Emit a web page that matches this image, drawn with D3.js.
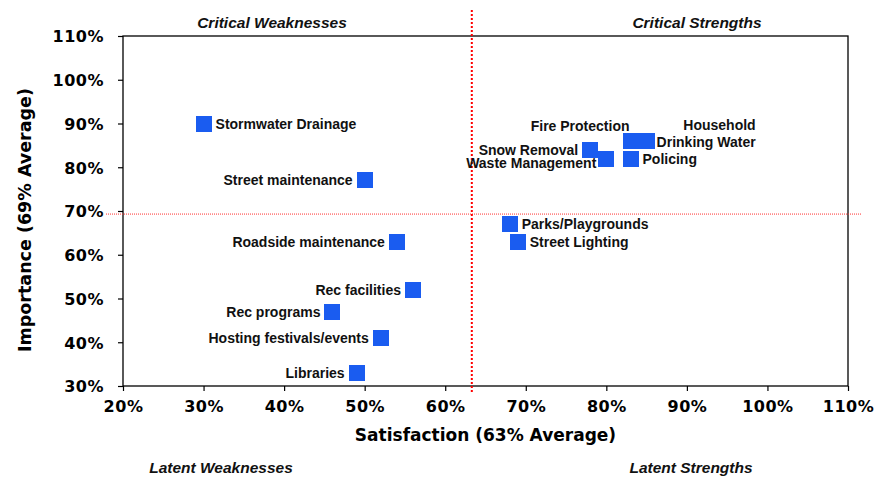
<!DOCTYPE html>
<html>
<head>
<meta charset="utf-8">
<script src="https://cdn.jsdelivr.net/npm/d3@7/dist/d3.min.js"></script>
<style>
  body { margin: 0; background: #fff; }
  .tick text { font-family: "DejaVu Sans", Verdana, sans-serif; font-weight: bold; font-size: 16px; letter-spacing: 0.5px; fill: #000; }
  .lbl { font-family: "Liberation Sans", Arial, sans-serif; font-weight: bold; font-size: 14px; fill: #111; }
  .quad { font-family: "Liberation Sans", Arial, sans-serif; font-weight: bold; font-style: italic; font-size: 15.5px; fill: #111; }
  .title { font-family: "DejaVu Sans", Verdana, sans-serif; font-weight: bold; font-size: 17px; fill: #000; }
</style>
</head>
<body>
<svg id="chart" width="877" height="479"></svg>
<script>
// data
var services = ["Stormwater Drainage", "Street maintenance", "Roadside maintenance", "Rec facilities",
  "Rec programs", "Hosting festivals/events", "Libraries", "Parks/Playgrounds", "Street Lighting",
  "Snow Removal", "Waste Management", "Policing", "Fire Protection", "Household\nDrinking Water"];
var satisfaction = [30, 50, 54, 56, 46, 52, 49, 68, 69, 78, 80, 83, 83, 85];
var importance = [90, 77, 63, 52, 47, 41, 33, 67, 63, 84, 82, 82, 86, 86];
// where each label sits next to its marker
var labelSide = ["right", "left", "left", "left", "left", "left", "left", "right", "right",
  "left", "leftBelow", "right", "leftAbove", "rightTwoLine"];
var xTicks = [20, 30, 40, 50, 60, 70, 80, 90, 100, 110];
var yTicks = [30, 40, 50, 60, 70, 80, 90, 100, 110];
var avgSatisfaction = 63.3;
var avgImportance = 69.3;
var quadrants = ["Critical Weaknesses", "Critical Strengths", "Latent Weaknesses", "Latent Strengths"];

var svg = d3.select("#chart");
var pLeft = 123, pRight = 848, pTop = 36, pBottom = 386;

var x = d3.scaleLinear().domain([20, 110]).range([pLeft, pRight]);
var y = d3.scaleLinear().domain([30, 110]).range([pBottom, pTop]);

// axes
var xAxis = svg.append("g").attr("transform", "translate(0," + pBottom + ")")
  .call(d3.axisBottom(x).tickValues(xTicks).tickSize(5).tickPadding(10).tickFormat(function(d) { return d + "%"; }));
var yAxis = svg.append("g").attr("transform", "translate(" + pLeft + ",0)")
  .call(d3.axisLeft(y).tickValues(yTicks).tickSize(5).tickPadding(14).tickFormat(function(d) { return d + "%"; }));
xAxis.select(".domain").remove();
yAxis.select(".domain").remove();
svg.selectAll(".tick line").attr("stroke", "#000").attr("stroke-width", 1.2);
yAxis.selectAll(".tick text").attr("dy", "0.36em");

// plot frame
svg.append("rect").attr("x", pLeft).attr("y", pTop).attr("width", pRight - pLeft).attr("height", pBottom - pTop)
  .attr("fill", "none").attr("stroke", "#000").attr("stroke-width", 1.3);

// average lines
svg.append("line").attr("x1", 106).attr("x2", 861).attr("y1", y(avgImportance)).attr("y2", y(avgImportance))
  .attr("stroke", "#ff3030").attr("stroke-width", 1).attr("stroke-dasharray", "1,1");
svg.append("line").attr("x1", x(avgSatisfaction)).attr("x2", x(avgSatisfaction)).attr("y1", 10).attr("y2", 392)
  .attr("stroke", "#ff0000").attr("stroke-width", 2).attr("stroke-dasharray", "2,2");

// markers
var pts = services.map(function(s, i) {
  return { name: s, sx: satisfaction[i], iy: importance[i], side: labelSide[i] };
});
var sz = 16;
svg.selectAll("rect.pt").data(pts).enter().append("rect").attr("class", "pt")
  .attr("x", function(d) { return x(d.sx) - sz / 2; })
  .attr("y", function(d) { return y(d.iy) - sz / 2; })
  .attr("width", sz).attr("height", sz)
  .attr("shape-rendering", "crispEdges")
  .attr("fill", "#1a5cf0");

// labels
pts.forEach(function(d) {
  var cx = x(d.sx), cy = y(d.iy);
  var t = svg.append("text").attr("class", "lbl");
  if (d.side == "right") {
    t.attr("x", cx + 12).attr("y", cy + 5).text(d.name);
  } else if (d.side == "left") {
    t.attr("x", cx - 12).attr("y", cy + 5).attr("text-anchor", "end").text(d.name);
  } else if (d.side == "leftBelow") {
    t.attr("x", cx - 10).attr("y", cy + 9).attr("text-anchor", "end").text(d.name);
  } else if (d.side == "leftAbove") {
    t.attr("x", cx - 1).attr("y", cy - 10).attr("text-anchor", "end").text(d.name);
  } else {
    var lines = d.name.split("\n");
    var probe = t.text(lines[1]);
    var w = probe.node().getComputedTextLength();
    t.text(null).attr("text-anchor", "end");
    t.append("tspan").attr("x", cx + 10 + w).attr("y", cy - 11).text(lines[0]);
    t.append("tspan").attr("x", cx + 10 + w).attr("y", cy + 6).text(lines[1]);
  }
});

// axis titles
svg.append("text").attr("class", "title").attr("text-anchor", "middle")
  .attr("x", (pLeft + pRight) / 2).attr("y", 441).text("Satisfaction (63% Average)");
svg.append("text").attr("class", "title").attr("text-anchor", "middle")
  .style("font-size", "17.5px")
  .attr("transform", "translate(31,220) rotate(-90)")
  .text("Importance (69% Average)");

// quadrant names
var qx = [272, 697, 221, 691];
var qy = [28, 28, 473, 473];
svg.selectAll("text.quad").data(quadrants).enter().append("text").attr("class", "quad")
  .attr("text-anchor", "middle")
  .attr("x", function(d, i) { return qx[i]; })
  .attr("y", function(d, i) { return qy[i]; })
  .text(function(d) { return d; });
</script>
</body>
</html>
